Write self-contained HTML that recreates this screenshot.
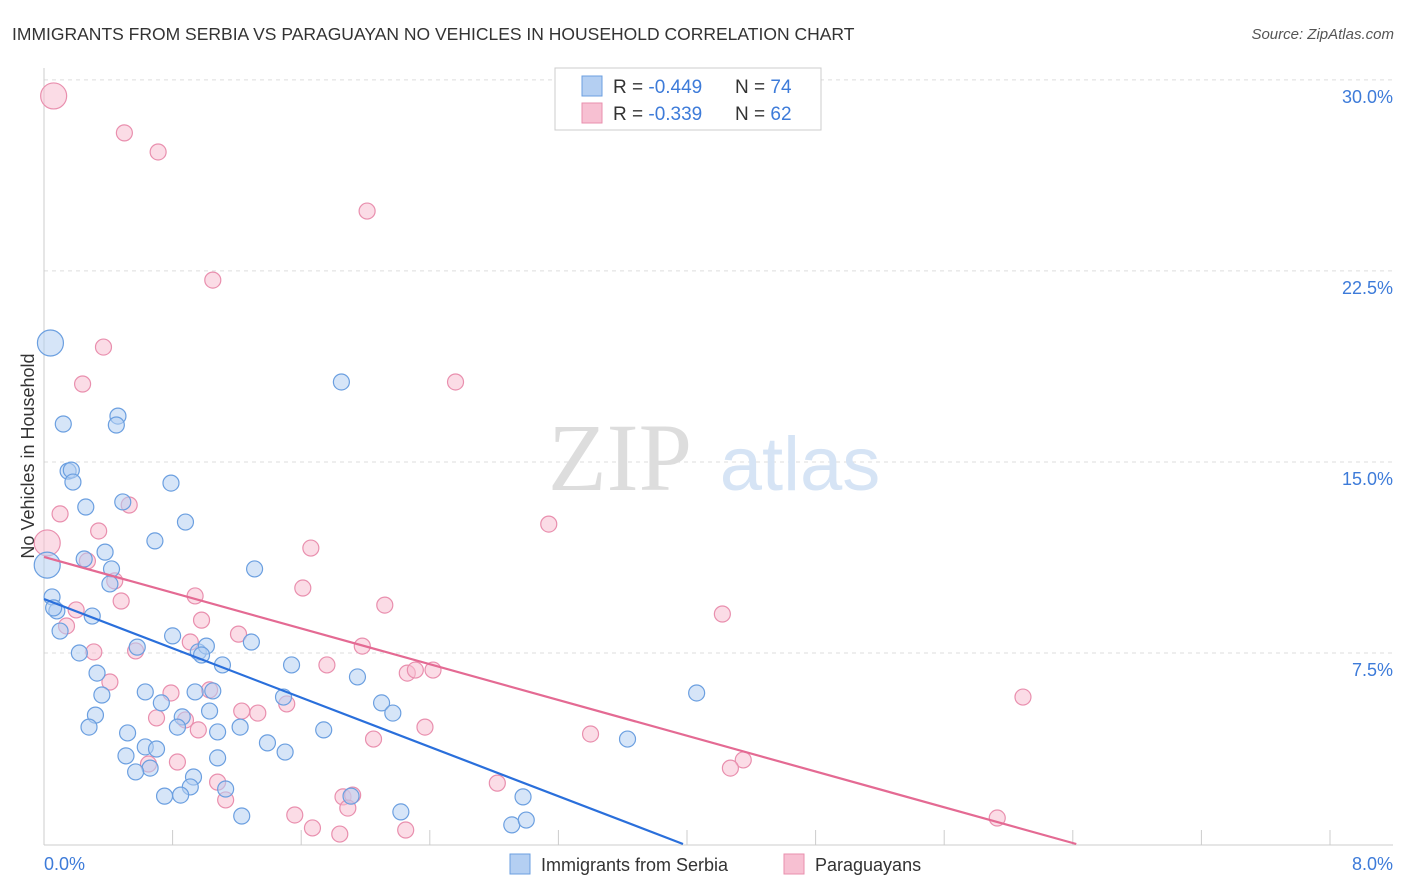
<!DOCTYPE html>
<html><head><meta charset="utf-8"><style>
body{margin:0;background:#fff;}
svg{display:block;font-family:"Liberation Sans",sans-serif;}
</style></head><body>
<svg id="c" width="1406" height="892"></svg>
<script>
const blueX=[.04,.12,.15,.17,.18,.26,.46,.45,.49,.79,.88,.69,.38,.25,.42,.41,.02,.05,.08,.30,.10,.22,.58,.80,.96,1.01,.98,1.11,1.29,1.31,1.54,1.85,.33,.36,.63,.73,.94,1.05,.32,.28,1.03,.86,.83,1.22,1.08,.52,.63,.51,.70,1.49,2.10,2.17,1.95,1.74,1.39,1.50,1.08,.66,.57,.93,.91,1.13,.75,.85,1.91,1.23,2.22,2.98,2.91,3.00,3.63,4.06,.06];
const blueY=[19.67,16.49,14.64,14.68,14.21,13.23,16.80,16.45,13.43,14.17,12.64,11.90,11.46,11.19,10.80,10.21,10.95,9.70,9.15,8.95,8.36,7.50,7.73,8.17,7.54,7.77,7.42,7.03,7.93,10.80,7.03,18.14,6.71,5.85,5.97,5.54,5.97,6.01,5.06,4.59,5.22,4.99,4.59,4.59,4.40,4.36,3.81,3.46,3.73,5.77,5.54,5.14,6.56,4.48,3.97,3.61,3.38,2.98,2.83,2.63,2.24,2.16,1.88,1.92,1.88,1.10,1.26,1.85,0.75,0.94,4.12,5.93,9.27];
const pinkX=[.06,.50,.71,2.01,1.05,.37,.24,2.56,.10,.53,.34,.02,.27,.44,1.66,3.14,1.61,.48,.20,.94,2.12,4.22,.98,.14,.31,1.21,1.98,.57,.91,1.76,2.26,2.31,2.42,.41,1.03,.79,1.51,1.33,1.23,.70,.88,2.37,.96,2.05,3.40,6.09,4.35,4.27,.83,.65,1.08,2.82,1.13,1.86,1.92,1.89,1.56,1.67,2.25,1.84,5.93];
const pinkY=[29.37,27.92,27.17,24.85,22.14,19.51,18.06,18.14,12.96,13.31,12.29,11.82,11.11,10.33,11.62,12.56,10.05,9.54,9.19,9.74,9.38,9.03,8.79,8.56,7.54,8.24,7.77,7.58,7.93,7.03,6.71,6.83,6.83,6.36,6.05,5.93,5.50,5.14,5.22,4.95,4.87,4.59,4.48,4.12,4.32,5.77,3.30,2.98,3.22,3.14,2.43,2.39,1.73,1.85,1.92,1.41,1.14,0.63,0.55,0.39,1.02];
const blueBig=[0,16];
const pinkBig=[0,11];
const blueFit=[9.62,-2.42];
const pinkFit=[11.27,-1.755];
const yTicks=[30,22.5,15,7.5];
const yTickLabels=["30.0%","22.5%","15.0%","7.5%"];

const NS="http://www.w3.org/2000/svg";
const svg=document.getElementById('c');
const X=v=>44+v/0.8*128.6;
const Y=v=>844-v*25.47;
function el(t,a,p){const e=document.createElementNS(NS,t);for(const k in a)e.setAttribute(k,a[k]);(p||svg).appendChild(e);return e;}

// gridlines
yTicks.forEach((t,i)=>{
  const g=el('line',{x1:44,x2:1393,y1:Y(t),y2:Y(t),stroke:'#ddd','stroke-dasharray':'4,4'});
  
  
  const tx=el('text',{x:1393,y:Y(t)+23,'text-anchor':'end','font-size':18,fill:'#3d7bd9'});
  tx.textContent=yTickLabels[i];
  
  
});
// axes
let a=el('line',{x1:44,x2:44,y1:68,y2:845,stroke:'#ccc'});


a=el('line',{x1:44,x2:1393,y1:845,y2:845,stroke:'#ccc'});


for(let i=1;i<=10;i++){
  const t=el('line',{x1:X(i*0.8),x2:X(i*0.8),y1:830,y2:845,stroke:'#ccc'});
  
  
}
// watermark
let w=el('text',{x:620,y:490,'text-anchor':'middle','font-size':96,fill:'#ddd','font-family':'Liberation Serif,serif'});
w.textContent='ZIP';


w=el('text',{x:800,y:490,'text-anchor':'middle','font-size':76,fill:'#d6e4f5'});
w.textContent='atlas';



function dots(xs,ys,big,fill,stroke,name){
  xs.forEach((x,i)=>{
    const c=el('circle',{cx:X(x),cy:Y(ys[i]),r:big.includes(i)?13:8,fill:fill,'fill-opacity':0.55,stroke:stroke,'stroke-width':1.2});
    
    
  });
}
dots(pinkX,pinkY,pinkBig,'#f7c0d2','#e98fae','paraguayans-point');
dots(blueX,blueY,blueBig,'#b4cff2','#6b9fe0','serbia-point');

function fit(f,color,name){
  const x0=0,x1=-f[0]/f[1];
  const l=el('line',{x1:X(x0),y1:Y(f[0]),x2:X(x1),y2:Y(f[0]+f[1]*x1),stroke:color,'stroke-width':2.2});
  
  
}
fit(blueFit,'#2a6fdb','serbia-trendline');
fit(pinkFit,'#e46a93','paraguayans-trendline');

// title/source
let t=el('text',{x:12,y:40,'font-size':17.5,fill:'#333'});
t.textContent='IMMIGRANTS FROM SERBIA VS PARAGUAYAN NO VEHICLES IN HOUSEHOLD CORRELATION CHART';


t=el('text',{x:1394,y:39,'text-anchor':'end','font-size':15,fill:'#555','font-style':'italic'});
t.textContent='Source: ZipAtlas.com';


t=el('text',{x:0,y:0,'font-size':18,fill:'#333','text-anchor':'middle',transform:'translate(34,456) rotate(-90)'});
t.textContent='No Vehicles in Household';


t=el('text',{x:44,y:870,'font-size':18,fill:'#3d7bd9'});
t.textContent='0.0%';


t=el('text',{x:1393,y:870,'text-anchor':'end','font-size':18,fill:'#3d7bd9'});
t.textContent='8.0%';



// stats legend
let b=el('rect',{x:555,y:68,width:266,height:62,fill:'#fff',stroke:'#ccc'});


[['#b4cff2','#6b9fe0','-0.449','74',86],['#f7c0d2','#e98fae','-0.339','62',113]].forEach((r,i)=>{
  const s=el('rect',{x:582,y:r[4]-10,width:20,height:20,fill:r[0],stroke:r[1]});
  
  
  const tx=el('text',{x:613,y:r[4]+7,'font-size':19,fill:'#333'});
  tx.innerHTML='R = <tspan fill="#3d7bd9">'+r[2]+'</tspan><tspan x="735">N = </tspan><tspan fill="#3d7bd9">'+r[3]+'</tspan>';
  
  
});
// bottom legend
[[510,'#b4cff2','#6b9fe0','Immigrants from Serbia','legend-serbia'],[784,'#f7c0d2','#e98fae','Paraguayans','legend-paraguayans']].forEach(r=>{
  const s=el('rect',{x:r[0],y:854,width:20,height:20,fill:r[1],stroke:r[2]});
  
  
  const tx=el('text',{x:r[0]+31,y:871,'font-size':18,fill:'#333'});
  tx.textContent=r[3];
  
  
});
</script>
</body></html>
